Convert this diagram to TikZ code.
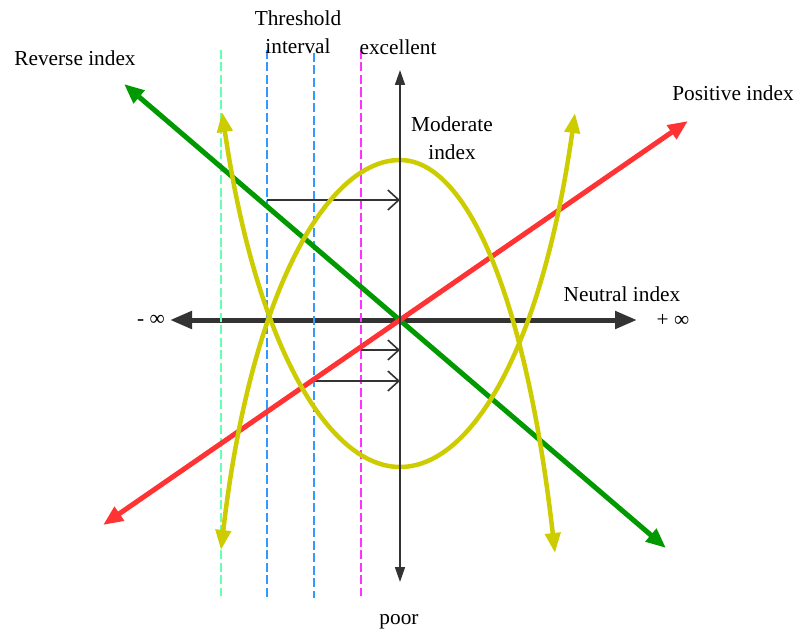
\documentclass[tikz,border=0pt]{standalone}
\usepackage{fontspec}
\setmainfont{Liberation Serif}
\usetikzlibrary{arrows.meta}
\definecolor{axisgray}{HTML}{333333}
\definecolor{revgreen}{HTML}{009900}
\definecolor{posred}{HTML}{FF3333}
\definecolor{modyellow}{HTML}{CCCC00}
\definecolor{dashgreen}{HTML}{66FFB3}
\definecolor{dashblue}{HTML}{3399FF}
\definecolor{dashmag}{HTML}{FF33FF}
\tikzset{
  lbl/.style={inner sep=0pt, align=center, text=black},
  mainaxis/.style={draw=axisgray, line width=5pt, {Triangle[length=22pt,width=17pt]}-{Triangle[length=22pt,width=17pt]}},
  vaxis/.style={draw=axisgray, line width=1.6pt, {Triangle[length=15pt,width=10pt]}-{Triangle[length=15pt,width=10pt]}},
  bigline/.style={line width=5pt, {Triangle[length=20pt,width=16pt]}-{Triangle[length=20pt,width=16pt]}},
  ycurve/.style={draw=modyellow, line width=4.5pt, {Triangle[length=20pt,width=15pt]}-{Triangle[length=20pt,width=15pt]}},
  dline/.style={line width=2pt, dash pattern=on 9pt off 3.5pt},
  smallarrow/.style={draw=axisgray, line width=1.6pt, -{Straight Barb[length=11pt,width=20pt,line width=1.6pt]}}
}
\begin{document}
\begin{tikzpicture}[x=1pt,y=-1pt, font=\fontsize{21.3}{28.5}\selectfont]
\useasboundingbox (0,0) rectangle (798,634);

% coordinates
\coordinate (hl) at (170,320);
\coordinate (hr) at (637,320);
\coordinate (vt) at (400,70);
\coordinate (vb) at (400,582);
\coordinate (gtl) at (124,84);
\coordinate (gbr) at (666,548);
\coordinate (rbl) at (103,525);
\coordinate (rtr) at (688,121);

% horizontal axis
\draw[mainaxis] (hl) -- (hr);

% dashed lines
\coordinate (d1t) at (221,50);  \coordinate (d1b) at (221,596);
\coordinate (d2t) at (267,50);  \coordinate (d2b) at (267,597);
\coordinate (d3t) at (314,53);  \coordinate (d3b) at (314,598);
\coordinate (d4t) at (361,50);  \coordinate (d4b) at (361,596);
\draw[dline, draw=dashgreen] (d1t) -- (d1b);
\draw[dline, draw=dashblue] (d2t) -- (d2b);
\draw[dline, draw=dashblue] (d3t) -- (d3b);
\draw[dline, draw=dashmag] (d4t) -- (d4b);

% small arrows to the vertical axis
\coordinate (a1s) at (267,200); \coordinate (a1e) at (400,200);
\coordinate (a2s) at (361,350); \coordinate (a2e) at (400,350);
\coordinate (a3s) at (314,381); \coordinate (a3e) at (400,381);
\draw[smallarrow] (a1s) -- (a1e);
\draw[smallarrow] (a2s) -- (a2e);
\draw[smallarrow] (a3s) -- (a3e);

% reverse and positive index lines
\draw[bigline, draw=revgreen] (gtl) -- (gbr);
\draw[bigline, draw=posred] (rbl) -- (rtr);

% moderate index curves
\coordinate (capL) at (221,550); \coordinate (capTop) at (400,160); \coordinate (capR) at (555,553);
\coordinate (cupL) at (222,112); \coordinate (cupBot) at (400,467); \coordinate (cupR) at (575,113);
\draw[ycurve] (capL) .. controls (251,290) and (328,160) .. (capTop)
  .. controls (465,160) and (525,290) .. (capR);
\draw[ycurve] (cupL) .. controls (257,350) and (330,467) .. (cupBot)
  .. controls (470,467) and (541,353) .. (cupR);

% vertical axis
\draw[vaxis] (vb) -- (vt);

% labels
\node[lbl] (rev) at (75,58) {Reverse index};
\node[lbl] (pos) at (733,93) {Positive index};
\node[lbl] (neu) at (622,294) {Neutral index};
\node[lbl] (pinf) at (673,320) {+ ∞};
\node[lbl] (minf) at (151,320) {- ∞};
\node[lbl] (thr) at (298,32) {Threshold\\interval};
\node[lbl] (exc) at (398,47) {excellent};
\node[lbl] (mod) at (452,138) {Moderate\\index};
\node[lbl] (poor) at (399,622) {poor};
\end{tikzpicture}
\end{document}
